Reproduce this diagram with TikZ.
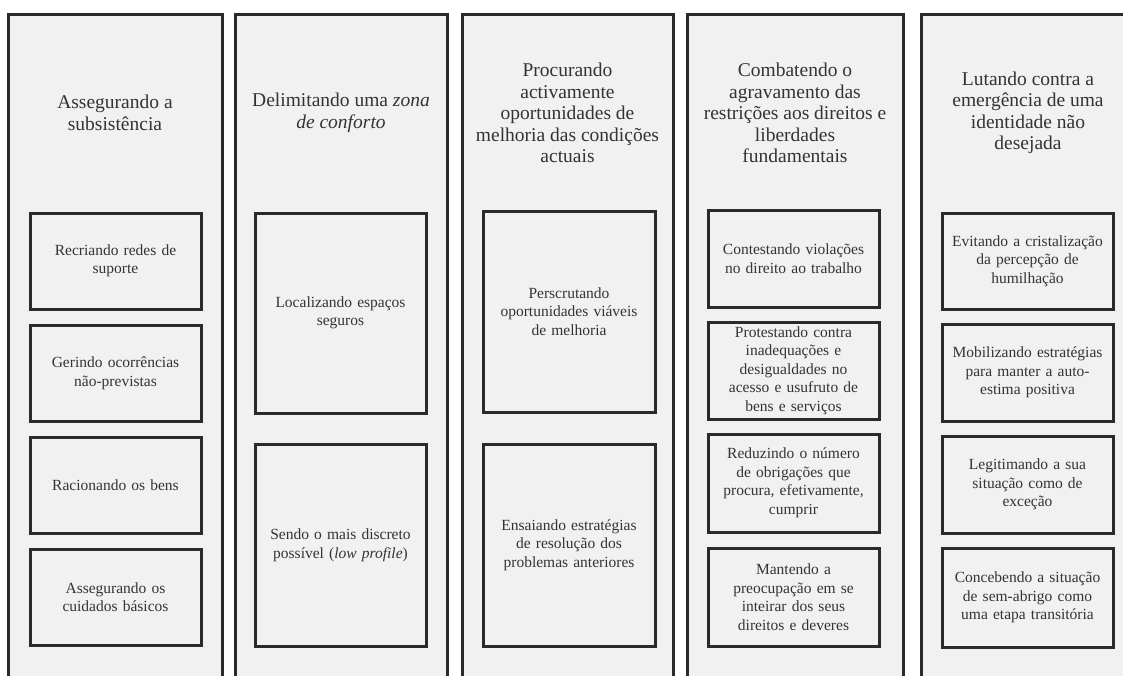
\documentclass[tikz,border=0pt]{standalone}
\usepackage{fontspec}
\setmainfont{Liberation Serif}
\definecolor{colfill}{HTML}{F1F1F1}
\definecolor{linec}{HTML}{2A2A2A}
\definecolor{txt}{HTML}{333333}
\begin{document}
\begin{tikzpicture}[x=1pt,y=-1pt,
  colbox/.style={draw=linec,line width=3pt,fill=colfill,minimum width=#1,minimum height=700pt,anchor=north,inner sep=0pt},
  ttl/.style={text=txt,align=center,font=\fontsize{19.5}{21.5}\selectfont,inner sep=0pt},
  ibox/.style={draw=linec,line width=3pt,fill=colfill,minimum width=171pt,text width=165pt,align=center,text=txt,font=\fontsize{15.5}{18.5}\selectfont,inner sep=3pt,minimum height=#1}
]
\useasboundingbox (0,0) rectangle (1123,675);
\clip (0,0) rectangle (1123,675);
\fill[white] (0,0) rectangle (1123,675);
% columns
\node[colbox=214pt] (c1) at (115,13) {};
\node[colbox=212pt] (c2) at (341,13) {};
\node[colbox=211pt] (c3) at (567.5,13) {};
\node[colbox=216pt] (c4) at (795,13) {};
\node[colbox=214pt] (c5) at (1028,13) {};
% titles
\node[ttl] (t1) at (115,113) {Assegurando a\\subsistência};
\node[ttl] (t2) at (341,113) {Delimitando uma \emph{zona}\\\emph{de conforto}};
\node[ttl] (t3) at (567.5,113) {Procurando\\activamente\\oportunidades de\\melhoria das condições\\actuais};
\node[ttl] (t4) at (795,113) {Combatendo o\\agravamento das\\restrições aos direitos e\\liberdades\\fundamentais};
\node[ttl] (t5) at (1028,113) {Lutando contra a\\emergência de uma\\identidade não\\desejada};
% column 1
\node[ibox=96pt] (a1) at (115.5,261) {Recriando redes de\\suporte};
\node[ibox=96pt] (a2) at (115.5,373) {Gerindo ocorrências\\não-previstas};
\node[ibox=96pt] (a3) at (115.5,485) {Racionando os bens};
\node[ibox=96pt] (a4) at (115.5,597) {Assegurando os\\cuidados básicos};
% column 2
\node[ibox=200pt] (b1) at (340.5,313) {Localizando espaços\\seguros};
\node[ibox=202pt] (b2) at (340.5,545.5) {Sendo o mais discreto\\possível (\emph{low profile})};
% column 3
\node[ibox=201pt,minimum width=172pt] (d1) at (569,311.5) {Perscrutando\\oportunidades viáveis\\de melhoria};
\node[ibox=202pt,minimum width=172pt] (d2) at (569,545) {Ensaiando estratégias\\de resolução dos\\problemas anteriores};
% column 4
\node[ibox=97pt] (e1) at (793.5,258.5) {Contestando violações\\no direito ao trabalho};
\node[ibox=97pt] (e2) at (793.5,370.5) {Protestando contra\\inadequações e\\desigualdades no\\acesso e usufruto de\\bens e serviços};
\node[ibox=98pt] (e3) at (793.5,483) {Reduzindo o número\\de obrigações que\\procura, efetivamente,\\cumprir};
\node[ibox=98pt] (e4) at (793.5,597) {Mantendo a\\preocupação em se\\inteirar dos seus\\direitos e deveres};
% column 5
\node[ibox=96pt] (f1) at (1027.5,261) {Evitando a cristalização\\da percepção de\\humilhação};
\node[ibox=97pt] (f2) at (1027.5,372.5) {Mobilizando estratégias\\para manter a auto-\\estima positiva};
\node[ibox=97pt] (f3) at (1027.5,484.5) {Legitimando a sua\\situação como de\\exceção};
\node[ibox=99pt] (f4) at (1027.5,597.5) {Concebendo a situação\\de sem-abrigo como\\uma etapa transitória};
\end{tikzpicture}
\end{document}
